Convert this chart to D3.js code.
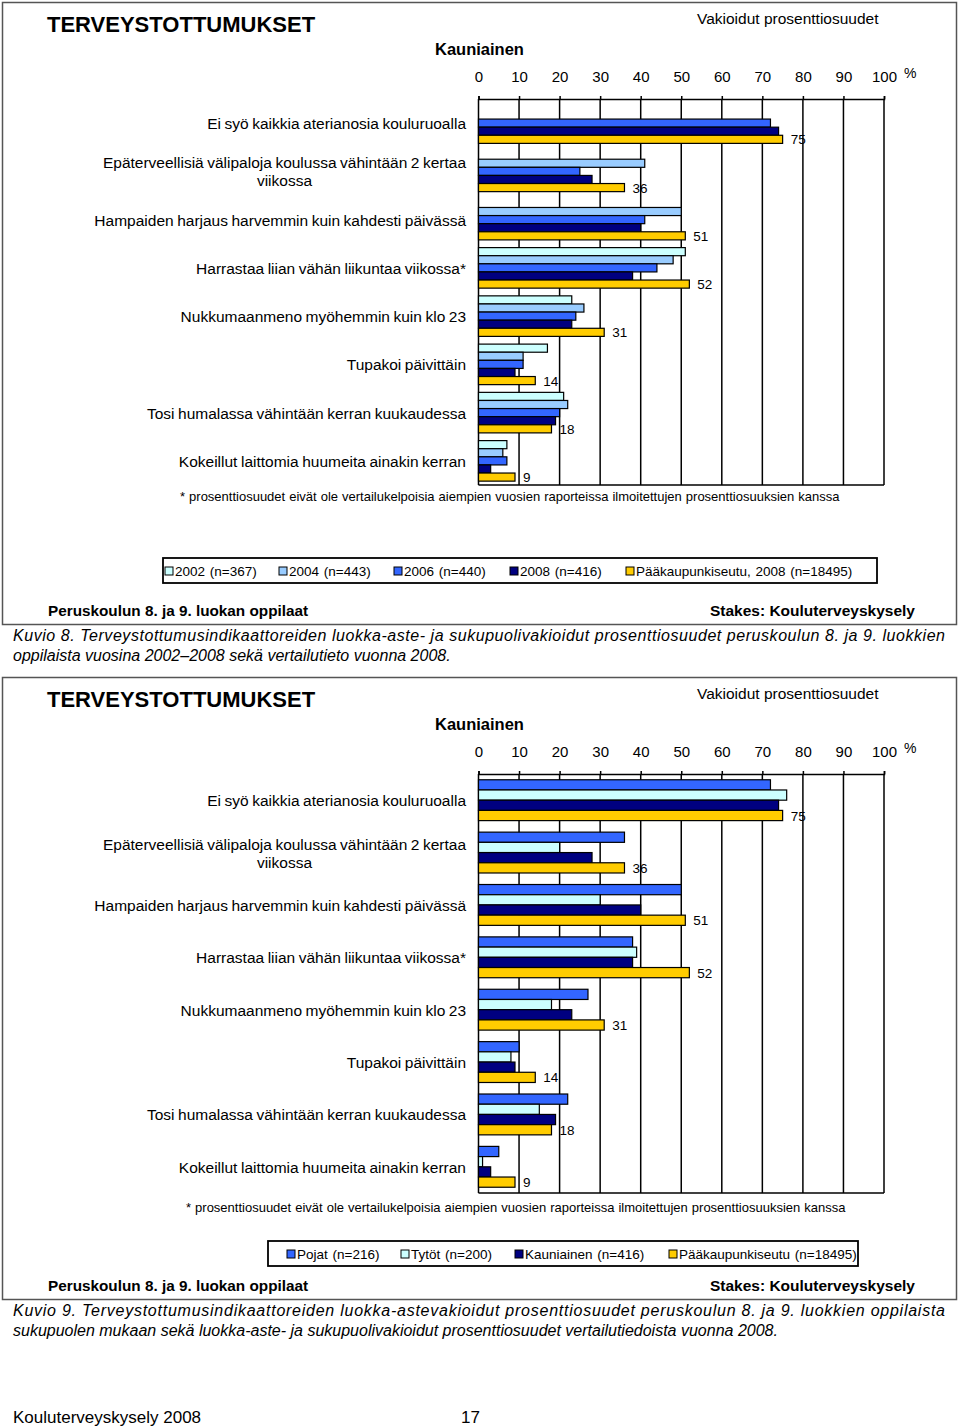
<!DOCTYPE html>
<html>
<head>
<meta charset="utf-8">
<script src="https://cdn.jsdelivr.net/npm/d3@7"></script>
<style>
  body { margin: 0; background: #fff; }
  text { font-family: "Liberation Sans", Arial, sans-serif; fill: #000; }
</style>
</head>
<body>
<svg id="chart" width="960" height="1427"></svg>
<script>
// indicators, "|" marks a line break
const categories = [
    "Ei syö kaikkia aterianosia kouluruoalla",
    "Epäterveellisiä välipaloja koulussa vähintään 2 kertaa|viikossa",
    "Hampaiden harjaus harvemmin kuin kahdesti päivässä",
    "Harrastaa liian vähän liikuntaa viikossa*",
    "Nukkumaanmeno myöhemmin kuin klo 23",
    "Tupakoi päivittäin",
    "Tosi humalassa vähintään kerran kuukaudessa",
    "Kokeillut laittomia huumeita ainakin kerran"
];

const tickValues = [0, 10, 20, 30, 40, 50, 60, 70, 80, 90, 100];

// Kuvio 8: years
const yearNames = ["2002 (n=367)", "2004 (n=443)", "2006 (n=440)", "2008 (n=416)", "Pääkaupunkiseutu, 2008 (n=18495)"];
const values2002 = [null, null, null, 51, 23, 17, 21, 7];
const values2004 = [null, 41, 50, 48, 26, 11, 22, 6];
const values2006 = [72, 25, 41, 44, 24, 11, 20, 7];
const values2008 = [74, 28, 40, 38, 23, 9, 19, 3];
const valuesPks = [75, 36, 51, 52, 31, 14, 18, 9];

// Kuvio 9: gender
const genderNames = ["Pojat (n=216)", "Tytöt (n=200)", "Kauniainen (n=416)", "Pääkaupunkiseutu (n=18495)"];
const valuesPojat = [72, 36, 50, 38, 27, 10, 22, 5];
const valuesTytot = [76, 20, 30, 39, 18, 8, 15, 1];
const valuesKauniainen = [74, 28, 40, 38, 23, 9, 19, 3];
const valuesPks2 = [75, 36, 51, 52, 31, 14, 18, 9];

const footnote = "* prosenttiosuudet eivät ole vertailukelpoisia aiempien vuosien raporteissa ilmoitettujen prosenttiosuuksien kanssa";

const C_2002 = "#ccffff", C_2004 = "#99ccff", C_2006 = "#3366ff", C_2008 = "#000080", C_PKS = "#ffcc00";

const svg = d3.select("#chart");
svg.append("rect").attr("width", 960).attr("height", 1427).attr("fill", "#fff");

function drawPanel(cfg) {
    const g = svg.append("g").attr("transform", `translate(0,${cfg.top})`);

    g.append("rect")
        .attr("x", 2.5).attr("y", 2.5)
        .attr("width", 954).attr("height", cfg.boxH)
        .attr("fill", "none").attr("stroke", "#555").attr("stroke-width", 1.5);

    g.append("text").attr("x", 47).attr("y", 32)
        .attr("font-size", 22).attr("font-weight", "bold")
        .text("TERVEYSTOTTUMUKSET");

    g.append("text").attr("x", 697).attr("y", 24)
        .attr("font-size", 15.5)
        .text("Vakioidut prosenttiosuudet");

    g.append("text").attr("x", 435).attr("y", 55)
        .attr("font-size", 16.5).attr("font-weight", "bold")
        .text("Kauniainen");

    const x = d3.scaleLinear().domain([0, 100]).range([478.5, 884]);
    const y = d3.scaleBand()
        .domain(d3.range(categories.length))
        .range([99, cfg.plotBottom])
        .paddingInner(cfg.pad).paddingOuter(cfg.pad / 2);
    const ys = d3.scaleBand()
        .domain(d3.range(cfg.series.length))
        .range([0, y.bandwidth()]);

    // gridlines
    g.append("g").selectAll("line")
        .data(tickValues)
        .enter().append("line")
        .attr("x1", d => x(d)).attr("x2", d => x(d))
        .attr("y1", 99).attr("y2", cfg.plotBottom)
        .attr("stroke", "#000").attr("stroke-width", 1.5);

    g.append("line")
        .attr("x1", x(0)).attr("x2", x(100))
        .attr("y1", cfg.plotBottom).attr("y2", cfg.plotBottom)
        .attr("stroke", "#000").attr("stroke-width", 1.5);

    const axis = g.append("g")
        .attr("transform", "translate(0,99)")
        .call(d3.axisTop(x).tickValues(tickValues).tickSize(3).tickSizeOuter(3).tickPadding(14));
    axis.selectAll("path, line").attr("stroke", "#000").attr("stroke-width", 1.5);
    axis.selectAll("text")
        .style("font-family", '"Liberation Sans", Arial, sans-serif')
        .attr("font-size", 15).attr("fill", "#000");

    g.append("text").attr("x", 904).attr("y", 78)
        .attr("font-size", 14).text("%");

    // bars
    cfg.series.forEach((s, si) => {
        g.append("g").selectAll("rect")
            .data(s.values.map((v, i) => ({ v, i })).filter(d => d.v != null))
            .enter().append("rect")
            .attr("x", x(0))
            .attr("y", d => y(d.i) + ys(si))
            .attr("width", d => x(d.v) - x(0))
            .attr("height", ys.bandwidth())
            .attr("fill", s.color)
            .attr("stroke", "#000").attr("stroke-width", 1.2);
    });

    // value labels for the last series
    const last = cfg.series.length - 1;
    g.append("g").selectAll("text")
        .data(cfg.series[last].values)
        .enter().append("text")
        .attr("x", d => x(d) + 8)
        .attr("y", (d, i) => y(i) + ys(last) + ys.bandwidth() / 2 + 5)
        .attr("font-size", 13.5).attr("fill", "#222")
        .text(d => d);

    // category labels: first line right aligned, a second line centred under it
    const labels = g.append("g").selectAll("text")
        .data(categories)
        .enter().append("text")
        .attr("font-size", 15.5).attr("word-spacing", -0.8)
        .attr("transform", (d, i) => `translate(0,${y(i) + y.bandwidth() / 2 + 1})`);
    labels.each(function(d) {
        const parts = d.split("|");
        const t = d3.select(this);
        const first = t.append("tspan")
            .attr("x", 466).attr("text-anchor", "end")
            .attr("y", 5 - (parts.length - 1) * 9)
            .text(parts[0]);
        if (parts.length > 1) {
            const w = first.node().getComputedTextLength();
            t.append("tspan")
                .attr("x", 466 - w / 2).attr("text-anchor", "middle")
                .attr("y", 5 + 9)
                .text(parts[1]);
        }
    });

    g.append("text").attr("x", cfg.noteX).attr("y", cfg.noteY)
        .attr("font-size", 13).attr("word-spacing", 0.4)
        .text(footnote);

    // legend
    const lg = g.append("g");
    lg.append("rect")
        .attr("x", cfg.legend.x).attr("y", cfg.legend.y)
        .attr("width", cfg.legend.w).attr("height", 25)
        .attr("fill", "#fff").attr("stroke", "#000").attr("stroke-width", 1.8);
    cfg.series.forEach((s, si) => {
        const lx = cfg.legend.items[si];
        lg.append("rect")
            .attr("x", lx).attr("y", cfg.legend.y + 9)
            .attr("width", 8).attr("height", 8)
            .attr("fill", s.color).attr("stroke", "#000").attr("stroke-width", 1);
        lg.append("text")
            .attr("x", lx + 10).attr("y", cfg.legend.y + 18)
            .attr("font-size", 13.5).attr("word-spacing", 1)
            .text(s.name);
    });

    g.append("text").attr("x", 48).attr("y", 616)
        .attr("font-size", 15.3).attr("font-weight", "bold")
        .text("Peruskoulun 8. ja 9. luokan oppilaat");
    g.append("text").attr("x", 915).attr("y", 616)
        .attr("text-anchor", "end")
        .attr("font-size", 15.5).attr("font-weight", "bold")
        .text("Stakes: Kouluterveyskysely");

    // caption
    g.append("text").attr("x", 13).attr("y", 641)
        .attr("font-size", 16).attr("font-style", "italic")
        .attr("textLength", 932).attr("lengthAdjust", "spacing")
        .text(cfg.caption[0]);
    g.append("text").attr("x", 13).attr("y", 661)
        .attr("font-size", 16).attr("font-style", "italic")
        .text(cfg.caption[1]);
}

drawPanel({
    top: 0,
    boxH: 622,
    plotBottom: 485,
    pad: 0.16,
    noteX: 180, noteY: 501,
    series: [
        { name: yearNames[0], values: values2002, color: C_2002 },
        { name: yearNames[1], values: values2004, color: C_2004 },
        { name: yearNames[2], values: values2006, color: C_2006 },
        { name: yearNames[3], values: values2008, color: C_2008 },
        { name: yearNames[4], values: valuesPks, color: C_PKS }
    ],
    legend: { x: 163, y: 558, w: 714, items: [165, 279, 394, 510, 626] },
    caption: [
        "Kuvio 8. Terveystottumusindikaattoreiden luokka-aste- ja sukupuolivakioidut prosenttiosuudet peruskoulun 8. ja 9. luokkien",
        "oppilaista vuosina 2002–2008 sekä vertailutieto vuonna 2008."
    ]
});

drawPanel({
    top: 675,
    boxH: 622,
    plotBottom: 1193 - 675,
    pad: 0.22,
    noteX: 186, noteY: 1212 - 675,
    series: [
        { name: genderNames[0], values: valuesPojat, color: C_2006 },
        { name: genderNames[1], values: valuesTytot, color: C_2002 },
        { name: genderNames[2], values: valuesKauniainen, color: C_2008 },
        { name: genderNames[3], values: valuesPks2, color: C_PKS }
    ],
    legend: { x: 268, y: 1241 - 675, w: 590, items: [287, 401, 515, 669] },
    caption: [
        "Kuvio 9. Terveystottumusindikaattoreiden luokka-astevakioidut prosenttiosuudet peruskoulun 8. ja 9. luokkien oppilaista",
        "sukupuolen mukaan sekä luokka-aste- ja sukupuolivakioidut prosenttiosuudet vertailutiedoista vuonna 2008."
    ]
});

svg.append("text").attr("x", 13).attr("y", 1423)
    .attr("font-size", 17).text("Kouluterveyskysely 2008");
svg.append("text").attr("x", 461).attr("y", 1423)
    .attr("font-size", 17).text("17");
</script>
</body>
</html>
